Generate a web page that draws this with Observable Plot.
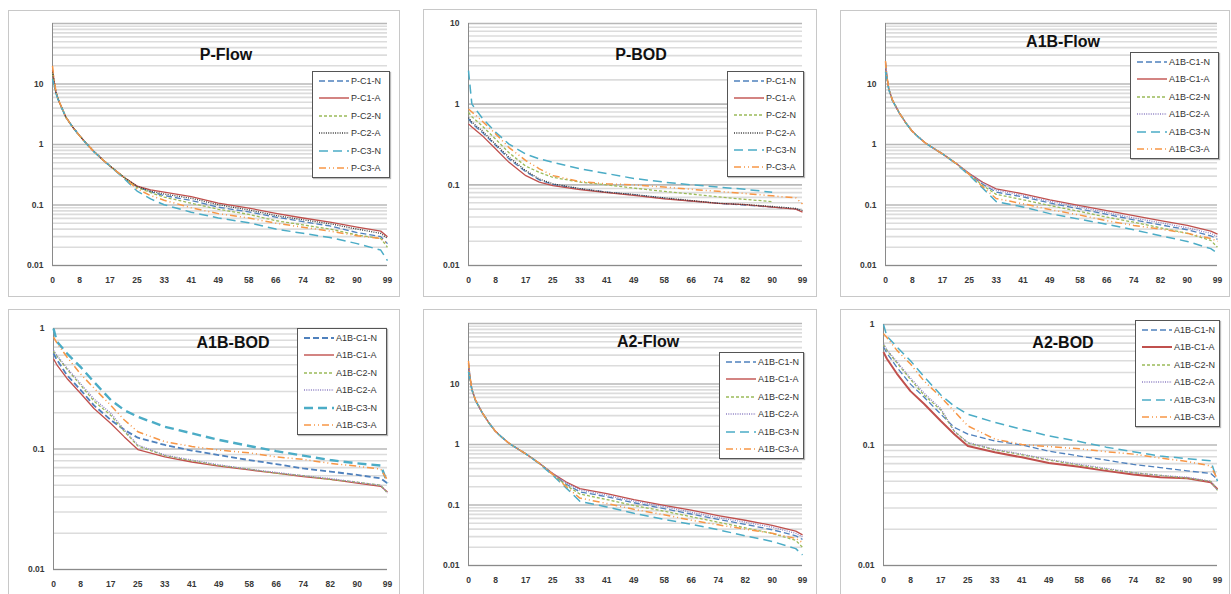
<!DOCTYPE html>
<html><head><meta charset="utf-8">
<script src="https://cdn.jsdelivr.net/npm/d3@7"></script>
<script src="https://cdn.jsdelivr.net/npm/@observablehq/plot@0.6"></script>
<style>
body{margin:0;width:1231px;height:594px;overflow:hidden;background:#fff;font-family:"Liberation Sans",Arial,sans-serif;position:relative}
.box{position:absolute;border:1px solid #c8c8c8;box-sizing:border-box;background:#fff}
.plotwrap{position:absolute}
.title{position:absolute;font-weight:bold;font-size:16px;transform:translate(-50%,-50%);white-space:nowrap;color:#111}
.legend{position:absolute;border:1.5px solid #555;background:#fff;box-sizing:border-box;box-shadow:1px 1px 1px #bbb}
.lrow{position:absolute;left:0;height:10px;display:flex;align-items:center;font-size:9px;color:#333;white-space:nowrap}
.lrow svg{display:block}
</style></head><body>
<script>
// ---------- data ----------
const xTickLabels = [0, 8, 17, 25, 33, 41, 49, 58, 66, 74, 82, 90, 99];
const yTicksFlow = [0.01, 0.1, 1, 10];
const yTicksPBod = [0.01, 0.1, 1, 10];
const yTicksABod = [0.01, 0.1, 1];
const namesP = ["P-C1-N", "P-C1-A", "P-C2-N", "P-C2-A", "P-C3-N", "P-C3-A"];
const namesA = ["A1B-C1-N", "A1B-C1-A", "A1B-C2-N", "A1B-C2-A", "A1B-C3-N", "A1B-C3-A"];
const flowX = [0, 0.5, 1, 2, 4, 6, 8, 10, 12, 15, 17, 21, 25, 29, 33, 41, 49, 58, 66, 74, 82, 90, 97, 99];
const bodX = [0, 1, 4, 8, 12, 17, 21, 25, 33, 41, 49, 58, 66, 74, 82, 90, 97, 99];

const pFlowC1N = [12, 10, 7.2, 5.0, 2.8, 1.92, 1.4, 1.04, 0.79, 0.55, 0.44, 0.29, 0.2, 0.165, 0.143, 0.119, 0.092, 0.077, 0.063, 0.053, 0.045, 0.035, 0.03, 0.023];
const pFlowC1A = [17, 11, 7.4, 5.0, 2.8, 1.93, 1.4, 1.04, 0.79, 0.55, 0.44, 0.29, 0.205, 0.178, 0.163, 0.138, 0.107, 0.089, 0.073, 0.061, 0.052, 0.043, 0.037, 0.03];
const pFlowC2N = [15, 10.5, 7.3, 5.0, 2.8, 1.93, 1.4, 1.04, 0.79, 0.55, 0.44, 0.29, 0.195, 0.16, 0.135, 0.107, 0.085, 0.070, 0.055, 0.047, 0.040, 0.032, 0.028, 0.020];
const pFlowC2A = [16, 11, 7.3, 5.0, 2.8, 1.93, 1.4, 1.04, 0.79, 0.55, 0.44, 0.29, 0.203, 0.17, 0.152, 0.129, 0.101, 0.083, 0.067, 0.057, 0.049, 0.040, 0.034, 0.028];
const pFlowC3N = [12, 9.5, 7.0, 4.9, 2.8, 1.92, 1.4, 1.03, 0.78, 0.55, 0.44, 0.28, 0.17, 0.126, 0.101, 0.076, 0.061, 0.051, 0.040, 0.034, 0.029, 0.023, 0.018, 0.012];
const pFlowC3A = [20, 12, 7.6, 5.1, 2.8, 1.93, 1.4, 1.04, 0.79, 0.55, 0.44, 0.29, 0.185, 0.143, 0.12, 0.090, 0.072, 0.061, 0.050, 0.043, 0.037, 0.031, 0.028, 0.023];

const pBodC1N = [0.66, 0.58, 0.45, 0.31, 0.21, 0.145, 0.115, 0.101, 0.089, 0.081, 0.075, 0.068, 0.063, 0.059, 0.056, 0.053, 0.05, 0.047];
const pBodC1A = [0.57, 0.52, 0.41, 0.28, 0.19, 0.13, 0.108, 0.098, 0.087, 0.080, 0.074, 0.067, 0.063, 0.059, 0.057, 0.053, 0.050, 0.046];
const pBodC2N = [0.79, 0.7, 0.54, 0.37, 0.25, 0.17, 0.143, 0.124, 0.108, 0.1, 0.091, 0.083, 0.077, 0.071, 0.066, 0.062, null, null];
const pBodC2A = [0.68, 0.6, 0.47, 0.32, 0.22, 0.15, 0.118, 0.103, 0.09, 0.081, 0.076, 0.069, 0.064, 0.059, 0.057, 0.054, 0.051, 0.048];
const pBodC3N = [2.6, 1.0, 0.68, 0.45, 0.32, 0.24, 0.21, 0.19, 0.158, 0.138, 0.12, 0.108, 0.1, 0.094, 0.088, 0.081, null, null];
const pBodC3A = [0.87, 0.8, 0.62, 0.43, 0.29, 0.2, 0.158, 0.13, 0.11, 0.103, 0.1, 0.094, 0.088, 0.083, 0.078, 0.073, 0.069, 0.058];

const a1bFlowC1N = [23, 12, 8.3, 5.5, 3.4, 2.3, 1.65, 1.3, 1.05, 0.82, 0.7, 0.49, 0.32, 0.22, 0.163, 0.136, 0.108, 0.086, 0.070, 0.057, 0.047, 0.039, 0.031, 0.027];
const a1bFlowC1A = [21, 12, 8.3, 5.5, 3.4, 2.3, 1.65, 1.3, 1.05, 0.82, 0.7, 0.49, 0.33, 0.238, 0.185, 0.153, 0.122, 0.098, 0.081, 0.067, 0.055, 0.046, 0.037, 0.033];
const a1bFlowC2N = [20, 12, 8.2, 5.5, 3.4, 2.3, 1.65, 1.3, 1.05, 0.82, 0.7, 0.49, 0.32, 0.21, 0.15, 0.122, 0.098, 0.078, 0.063, 0.052, 0.042, 0.034, 0.026, 0.02];
const a1bFlowC2A = [22, 12, 8.3, 5.5, 3.4, 2.3, 1.65, 1.3, 1.05, 0.82, 0.7, 0.49, 0.33, 0.23, 0.176, 0.144, 0.115, 0.093, 0.075, 0.061, 0.051, 0.042, 0.034, 0.030];
const a1bFlowC3N = [16, 11, 8.0, 5.4, 3.4, 2.3, 1.64, 1.3, 1.04, 0.82, 0.7, 0.48, 0.31, 0.19, 0.114, 0.093, 0.072, 0.058, 0.048, 0.039, 0.031, 0.025, 0.019, 0.016];
const a1bFlowC3A = [24, 12.5, 8.4, 5.6, 3.4, 2.3, 1.65, 1.3, 1.05, 0.82, 0.7, 0.49, 0.32, 0.2, 0.128, 0.105, 0.084, 0.068, 0.055, 0.046, 0.040, 0.034, 0.028, 0.025];

const a2FlowC1N = [22, 12, 8.2, 5.5, 3.4, 2.3, 1.65, 1.3, 1.05, 0.82, 0.7, 0.49, 0.32, 0.22, 0.165, 0.137, 0.109, 0.087, 0.071, 0.058, 0.048, 0.039, 0.031, 0.027];
const a2FlowC1A = [21, 12, 8.2, 5.5, 3.4, 2.3, 1.65, 1.3, 1.05, 0.82, 0.7, 0.49, 0.33, 0.24, 0.187, 0.154, 0.123, 0.099, 0.082, 0.067, 0.056, 0.046, 0.037, 0.032];
const a2FlowC2N = [20, 12, 8.1, 5.5, 3.4, 2.3, 1.65, 1.3, 1.05, 0.82, 0.7, 0.49, 0.32, 0.21, 0.152, 0.123, 0.098, 0.079, 0.064, 0.052, 0.042, 0.034, 0.026, 0.02];
const a2FlowC2A = [22, 12, 8.2, 5.5, 3.4, 2.3, 1.65, 1.3, 1.05, 0.82, 0.7, 0.49, 0.33, 0.23, 0.178, 0.145, 0.116, 0.094, 0.076, 0.062, 0.052, 0.043, 0.034, 0.03];
const a2FlowC3N = [16, 11, 8.0, 5.4, 3.4, 2.3, 1.64, 1.3, 1.04, 0.82, 0.7, 0.48, 0.31, 0.19, 0.115, 0.093, 0.073, 0.058, 0.048, 0.039, 0.031, 0.025, 0.019, 0.015];
const a2FlowC3A = [24, 12.5, 8.3, 5.6, 3.4, 2.3, 1.65, 1.3, 1.05, 0.82, 0.7, 0.49, 0.32, 0.2, 0.13, 0.106, 0.085, 0.069, 0.056, 0.047, 0.04, 0.034, 0.028, 0.024];

const a1bBodC1N = [0.62, 0.55, 0.41, 0.31, 0.23, 0.174, 0.144, 0.124, 0.108, 0.097, 0.089, 0.081, 0.075, 0.069, 0.065, 0.061, 0.057, 0.052];
const a1bBodC1A = [0.56, 0.5, 0.385, 0.29, 0.217, 0.163, 0.126, 0.099, 0.086, 0.078, 0.072, 0.067, 0.063, 0.059, 0.056, 0.052, 0.049, 0.044];
const a1bBodC2N = [0.65, 0.59, 0.46, 0.34, 0.25, 0.19, 0.14, 0.106, 0.088, 0.08, 0.073, 0.068, 0.063, 0.06, 0.056, 0.053, 0.05, 0.043];
const a1bBodC2A = [0.66, 0.6, 0.47, 0.35, 0.26, 0.198, 0.144, 0.108, 0.089, 0.081, 0.074, 0.068, 0.064, 0.06, 0.057, 0.053, 0.05, 0.043];
const a1bBodC3N = [1.0, 0.78, 0.62, 0.48, 0.36, 0.255, 0.21, 0.185, 0.153, 0.135, 0.119, 0.106, 0.096, 0.088, 0.081, 0.076, 0.073, 0.052];
const a1bBodC3A = [0.85, 0.76, 0.58, 0.42, 0.32, 0.23, 0.174, 0.139, 0.115, 0.105, 0.098, 0.093, 0.086, 0.082, 0.076, 0.072, 0.068, 0.055];

const a2BodC1N = [0.65, 0.58, 0.44, 0.32, 0.25, 0.18, 0.14, 0.123, 0.108, 0.1, 0.089, 0.081, 0.075, 0.069, 0.065, 0.061, 0.058, 0.052];
const a2BodC1A = [0.59, 0.52, 0.39, 0.28, 0.22, 0.158, 0.123, 0.098, 0.087, 0.079, 0.071, 0.066, 0.061, 0.057, 0.054, 0.053, 0.049, 0.043];
const a2BodC2N = [0.68, 0.61, 0.48, 0.35, 0.26, 0.195, 0.13, 0.104, 0.091, 0.083, 0.075, 0.068, 0.063, 0.059, 0.056, 0.053, 0.05, 0.042];
const a2BodC2A = [0.69, 0.62, 0.49, 0.36, 0.27, 0.2, 0.13, 0.105, 0.092, 0.084, 0.076, 0.069, 0.064, 0.059, 0.056, 0.054, 0.05, 0.042];
const a2BodC3N = [1.0, 0.8, 0.65, 0.5, 0.37, 0.26, 0.21, 0.18, 0.154, 0.135, 0.119, 0.107, 0.096, 0.088, 0.081, 0.077, 0.074, 0.05];
const a2BodC3A = [0.84, 0.78, 0.61, 0.47, 0.34, 0.25, 0.19, 0.144, 0.112, 0.101, 0.097, 0.093, 0.088, 0.084, 0.078, 0.073, 0.067, 0.052];

// ---------- styles ----------
const dashes = ["6,3", null, "3,2", "1,1.3", "9,5", "7,3,1,3,1,3"];
const colorsP = ["#4F81BD", "#C0504D", "#9BBB59", "#3a3a3a", "#4BACC6", "#F79646"];
const colorsA = ["#4F81BD", "#C0504D", "#9BBB59", "#8e80c4", "#4BACC6", "#F79646"];

const panels = [
  {title:"P-Flow", names:namesP, colors:colorsP, xs:flowX, ys:[pFlowC1N,pFlowC1A,pFlowC2N,pFlowC2A,pFlowC3N,pFlowC3A],
   domain:[0.01,100], yTicks:yTicksFlow, box:[8,10,392,287], m:[13,13,32,44], t:[226,55], lg:[312,71,78,107], w:[1.3,1.3,1.3,1.3,1.5,1.5]},
  {title:"P-BOD", names:namesP, colors:colorsP, xs:bodX, ys:[pBodC1N,pBodC1A,pBodC2N,pBodC2A,pBodC3N,pBodC3A],
   domain:[0.01,10], yTicks:yTicksPBod, box:[423,9,394,288], m:[14,15,32,45], t:[641,55], lg:[727,71,77,106], w:[1.3,1.3,1.3,1.3,1.5,1.5]},
  {title:"A1B-Flow", names:namesA, colors:colorsA, xs:flowX, ys:[a1bFlowC1N,a1bFlowC1A,a1bFlowC2N,a1bFlowC2A,a1bFlowC3N,a1bFlowC3A],
   domain:[0.01,100], yTicks:yTicksFlow, box:[840,10,390,287], m:[13,13,32,45], t:[1063,42], lg:[1130,52,89,107], w:[1.3,1.3,1.3,1.3,1.5,1.5]},
  {title:"A1B-BOD", names:namesA, colors:colorsA, xs:bodX, ys:[a1bBodC1N,a1bBodC1A,a1bBodC2N,a1bBodC2A,a1bBodC3N,a1bBodC3A],
   domain:[0.01,1], yTicks:yTicksABod, box:[8,309,392,291], m:[19,13,31,45], t:[233,343], lg:[297,328,90,107], w:[1.8,1.3,1.3,1.3,2.4,1.5]},
  {title:"A2-Flow", names:namesA, colors:colorsA, xs:flowX, ys:[a2FlowC1N,a2FlowC1A,a2FlowC2N,a2FlowC2A,a2FlowC3N,a2FlowC3A],
   domain:[0.01,100], yTicks:yTicksFlow, box:[423,309,394,291], m:[14,15,35,45], t:[648,342], lg:[719,352,85,107], w:[1.3,1.3,1.3,1.3,1.5,1.5]},
  {title:"A2-BOD", names:namesA, colors:colorsA, xs:bodX, ys:[a2BodC1N,a2BodC1A,a2BodC2N,a2BodC2A,a2BodC3N,a2BodC3A],
   domain:[0.01,1], yTicks:yTicksABod, box:[840,309,390,291], m:[15,13,35,43], t:[1063,343], lg:[1135,320,85,107], w:[1.3,2.0,1.3,1.3,1.5,1.5]}
];

function gridValues(domain) {
  const major = [], minor = [];
  const e0 = Math.round(Math.log10(domain[0])), e1 = Math.round(Math.log10(domain[1]));
  for (let e = e0; e <= e1; e++) {
    major.push(Math.pow(10, e));
    if (e < e1) for (let k = 2; k <= 9; k++) minor.push(k * Math.pow(10, e));
  }
  return {major, minor};
}

const body = document.body;
panels.forEach(p => {
  const [bx, by, bw, bh] = p.box;
  const box = document.createElement("div");
  box.className = "box";
  Object.assign(box.style, {left: bx + "px", top: by + "px", width: bw + "px", height: bh + "px"});
  body.appendChild(box);

  const g = gridValues(p.domain);
  const lineMarks = p.ys.map((ys, i) => {
    const rows = p.xs.map((x, j) => ({x, y: ys[j]}));
    return Plot.line(rows, {x: "x", y: "y", stroke: p.colors[i], strokeWidth: p.w[i],
      strokeDasharray: dashes[i] || undefined, strokeLinecap: "butt"});
  });

  const svg = Plot.plot({
    width: bw, height: bh,
    marginTop: p.m[0], marginRight: p.m[1], marginBottom: p.m[2], marginLeft: p.m[3],
    x: {type: "linear", domain: [0, 99]},
    y: {type: "log", domain: p.domain},
    style: {fontFamily: "'Liberation Sans', Arial, sans-serif", fontSize: "8.5px", fontWeight: "bold", color: "#383838", background: "transparent", overflow: "visible"},
    marks: [
      Plot.ruleY(g.minor, {stroke: "#dcdcdc", strokeWidth: 1.6}),
      Plot.ruleY(g.major, {stroke: "#b8b8b8", strokeWidth: 1.6}),
      Plot.ruleX([0], {stroke: "#8a8a8a", strokeWidth: 1}),
      Plot.ruleY([p.domain[0]], {stroke: "#8a8a8a", strokeWidth: 1}),
      ...lineMarks,
      Plot.axisY({ticks: p.yTicks, tickSize: 0, tickPadding: 9, label: null, tickFormat: d => String(d)}),
      Plot.axisX({ticks: xTickLabels, tickSize: 0, tickPadding: 11, label: null, tickFormat: d => String(d)})
    ]
  });
  const wrap = document.createElement("div");
  wrap.className = "plotwrap";
  Object.assign(wrap.style, {left: bx + "px", top: by + "px"});
  wrap.appendChild(svg);
  body.appendChild(wrap);

  const t = document.createElement("div");
  t.className = "title";
  t.textContent = p.title;
  Object.assign(t.style, {left: p.t[0] + "px", top: p.t[1] + "px"});
  body.appendChild(t);

  const [lx, ly, lw, lh] = p.lg;
  const lg = document.createElement("div");
  lg.className = "legend";
  Object.assign(lg.style, {left: lx + "px", top: ly + "px", width: lw + "px", height: lh + "px"});
  const step = (lh - 20) / 5;
  p.names.forEach((name, i) => {
    const row = document.createElement("div");
    row.className = "lrow";
    row.style.top = (10 + i * step - 5 - 1) + "px";
    row.style.left = "6px";
    const ns = "http://www.w3.org/2000/svg";
    const s = document.createElementNS(ns, "svg");
    s.setAttribute("width", 30); s.setAttribute("height", 10);
    s.style.marginRight = "2px";
    const l = document.createElementNS(ns, "line");
    l.setAttribute("x1", 0); l.setAttribute("x2", 30); l.setAttribute("y1", 5); l.setAttribute("y2", 5);
    l.setAttribute("stroke", p.colors[i]); l.setAttribute("stroke-width", Math.max(1.4, p.w[i]));
    if (dashes[i]) l.setAttribute("stroke-dasharray", dashes[i]);
    s.appendChild(l);
    row.appendChild(s);
    const tx = document.createElement("span");
    tx.textContent = name;
    row.appendChild(tx);
    lg.appendChild(row);
  });
  body.appendChild(lg);
});
</script>
</body></html>
